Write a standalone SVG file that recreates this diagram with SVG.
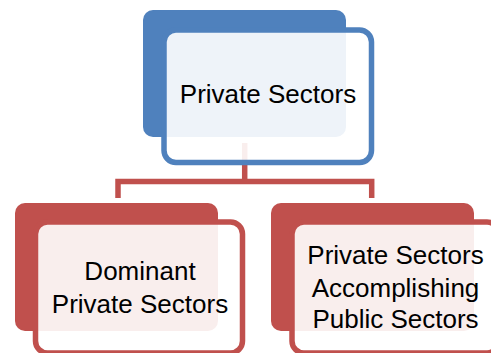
<svg xmlns="http://www.w3.org/2000/svg" width="491" height="353" viewBox="0 0 491 353">
  <style>
    .back-blue { fill: #4F81BD; }
    .back-red { fill: #C0504D; }
    .front { fill: #FFFFFF; fill-opacity: 0.9; stroke-width: 5.5; }
    .front-blue { stroke: #4F81BD; }
    .front-red { stroke: #C0504D; }
    .link { fill: none; stroke: #C0504D; stroke-width: 5.5; stroke-linejoin: miter; }
    .label { font-family: "Liberation Sans", Arial, sans-serif; font-size: 26px; fill: #000000; text-anchor: middle; }
  </style>

  <!-- back panels -->
  <rect class="back-blue" x="143" y="10" width="203" height="127" rx="10"/>
  <rect class="back-red" x="15" y="203" width="203" height="128" rx="10"/>
  <rect class="back-red" x="271" y="203" width="203" height="128" rx="10"/>

  <!-- connectors -->
  <g id="connectors">
    <path class="link" d="M244.7,143 V181.5"/>
    <path class="link" d="M118,198 V181.5 H371.7 V198"/>
  </g>

  <g id="node-private-sectors">
    <rect class="front front-blue" x="164" y="30" width="207.5" height="132.5" rx="12"/>
    <text class="label" x="268" y="103">Private Sectors</text>
  </g>

  <g id="node-dominant">
    <rect class="front front-red" x="35.5" y="222" width="207" height="131" rx="12"/>
    <text class="label" x="140" y="280">Dominant</text>
    <text class="label" x="140" y="313">Private Sectors</text>
  </g>

  <g id="node-accomplishing">
    <rect class="front front-red" x="292" y="222" width="207" height="131" rx="12"/>
    <text class="label" x="395.5" y="264">Private Sectors</text>
    <text class="label" x="395.5" y="297">Accomplishing</text>
    <text class="label" x="395.5" y="328">Public Sectors</text>
  </g>
</svg>
